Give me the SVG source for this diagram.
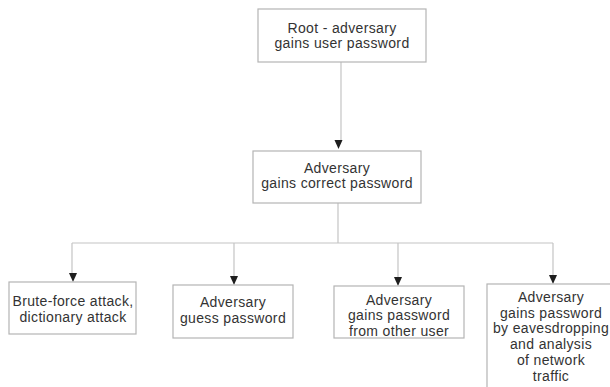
<svg xmlns="http://www.w3.org/2000/svg" width="610" height="387" viewBox="0 0 610 387">
  <style>
    .box { fill: #ffffff; stroke: #b4b4b4; stroke-width: 1.2; }
    .label { font-family: "Liberation Sans", Arial, sans-serif; font-size: 14px; letter-spacing: 0.35px; fill: #333333; text-anchor: middle; }
    .wire { fill: none; stroke: #c4c4c4; stroke-width: 1.2; }
    .head { fill: #1e1e1e; }
  </style>
  <defs>
    <!-- downward arrowhead, tip at the origin -->
    <path id="head" class="head" d="M-4,-9 L4,-9 L0,0 Z"/>
  </defs>
  <rect width="610" height="387" fill="#ffffff"/>

  <!-- connectors -->
  <g id="connectors">
    <path class="wire" d="M341,62 V140"/>
    <use href="#head" x="338.5" y="149"/>
    <path class="wire" d="M338,203 V243"/>
    <path class="wire" d="M72,243 H553"/>
    <path class="wire" d="M72,243 V273"/>
    <use href="#head" x="73" y="282"/>
    <path class="wire" d="M234,243 V276"/>
    <use href="#head" x="234" y="285"/>
    <path class="wire" d="M398,243 V277"/>
    <use href="#head" x="398" y="286"/>
    <path class="wire" d="M553,243 V275"/>
    <use href="#head" x="553" y="284"/>
  </g>

  <g id="root">
    <rect class="box" x="258" y="9" width="168" height="53"/>
    <text class="label" x="342" y="32.5">Root - adversary<tspan x="342" dy="15.8">gains user password</tspan></text>
  </g>

  <g id="correct-password">
    <rect class="box" x="253" y="151" width="168" height="52"/>
    <text class="label" x="337" y="172.5">Adversary<tspan x="337" dy="15.8">gains correct password</tspan></text>
  </g>

  <g id="brute-force">
    <rect class="box" x="9" y="282" width="127" height="52"/>
    <text class="label" x="73" y="306">Brute-force attack,<tspan x="73" dy="16">dictionary attack</tspan></text>
  </g>

  <g id="guess">
    <rect class="box" x="173" y="285" width="120" height="53"/>
    <text class="label" x="233" y="307">Adversary<tspan x="233" dy="16">guess password</tspan></text>
  </g>

  <g id="other-user">
    <rect class="box" x="334" y="286" width="130" height="52"/>
    <text class="label" x="399" y="304.5">Adversary<tspan x="399" dy="15.8">gains password</tspan><tspan x="399" dy="15.8">from other user</tspan></text>
  </g>

  <g id="eavesdropping">
    <rect class="box" x="487" y="284" width="130" height="110"/>
    <text class="label" x="551" y="302">Adversary<tspan x="551" dy="15.7">gains password</tspan><tspan x="551" dy="15.7">by eavesdropping</tspan><tspan x="551" dy="15.7">and analysis</tspan><tspan x="551" dy="15.7">of network</tspan><tspan x="551" dy="15.7">traffic</tspan></text>
  </g>
</svg>
